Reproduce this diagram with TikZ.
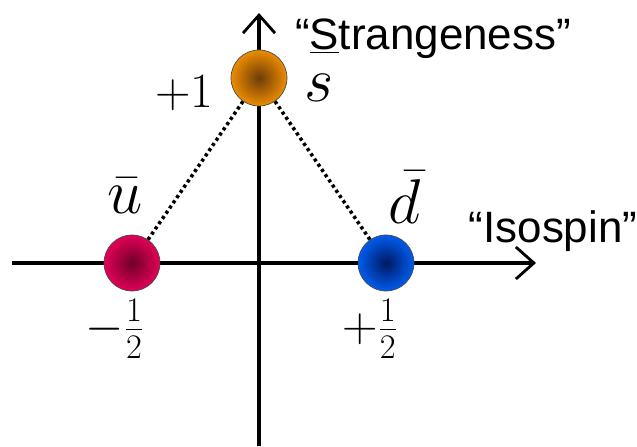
\documentclass[tikz,border=0pt]{standalone}
\usepackage{fix-cm}
\usepackage{fontspec}
\setsansfont{Liberation Sans}
\usetikzlibrary{arrows.meta}

\definecolor{sorange}{RGB}{236,140,0}
\definecolor{sorangedk}{RGB}{110,60,10}
\definecolor{ured}{RGB}{226,0,88}
\definecolor{ureddk}{RGB}{110,0,40}
\definecolor{dblue}{RGB}{0,92,236}
\definecolor{dbluedk}{RGB}{0,25,100}

\begin{document}
\begin{tikzpicture}[
    axis/.style={line width=2.3pt, -{Straight Barb[length=3.6mm,width=6.4mm,line width=1.6pt]}},
    ball/.style={circle, draw=black!70, thin, minimum size=1.12cm, inner sep=0pt, shading=radial},
    dotline/.style={line width=2pt, dash pattern=on 1.8pt off 1.8pt},
    quark/.style={font=\fontsize{36}{38}\selectfont},
    num/.style={font=\fontsize{28}{30}\selectfont},
    axlabel/.style={font=\sffamily\fontsize{25}{27}\selectfont}
    ]

\useasboundingbox (0,0) rectangle (12.74,8.92);

% axes
\coordinate (xstart) at (0.24,3.66);
\coordinate (xend)   at (10.72,3.66);
\coordinate (ystart) at (5.18,0);
\coordinate (yend)   at (5.18,8.66);
\draw[axis] (xstart) -- (xend);
\draw[axis] (ystart) -- (yend);

% quarks
\node[ball, inner color=ureddk, outer color=ured] (ubar) at (2.64,3.66) {};
\node[ball, inner color=dbluedk, outer color=dblue] (dbar) at (7.72,3.66) {};
\node[ball, inner color=sorangedk, outer color=sorange] (sq) at (5.18,7.36) {};

% triangle
\draw[dotline] (ubar) -- (sq);
\draw[dotline] (sq) -- (dbar);
\draw[dotline] (ubar) -- (dbar);

% labels
\node[quark] (ulab) at (2.50,5.00) {$\bar{u}$};
\node[quark] (dlab) at (8.10,4.98) {$\bar{d}$};
\node[quark] (slab) at (6.38,7.16) {$s$};
\node[num] (plusone) at (3.68,7.06) {$+1$};
\node[num] (mhalf) at (2.30,2.34) {$-\frac{1}{2}$};
\node[num] (phalf) at (7.40,2.34) {$+\frac{1}{2}$};
\node[axlabel] (strange) at (8.66,8.14) {“\underline{S}trangeness”};
\node[axlabel] (iso) at (11.06,4.30) {“Isospin”};

\end{tikzpicture}
\end{document}
